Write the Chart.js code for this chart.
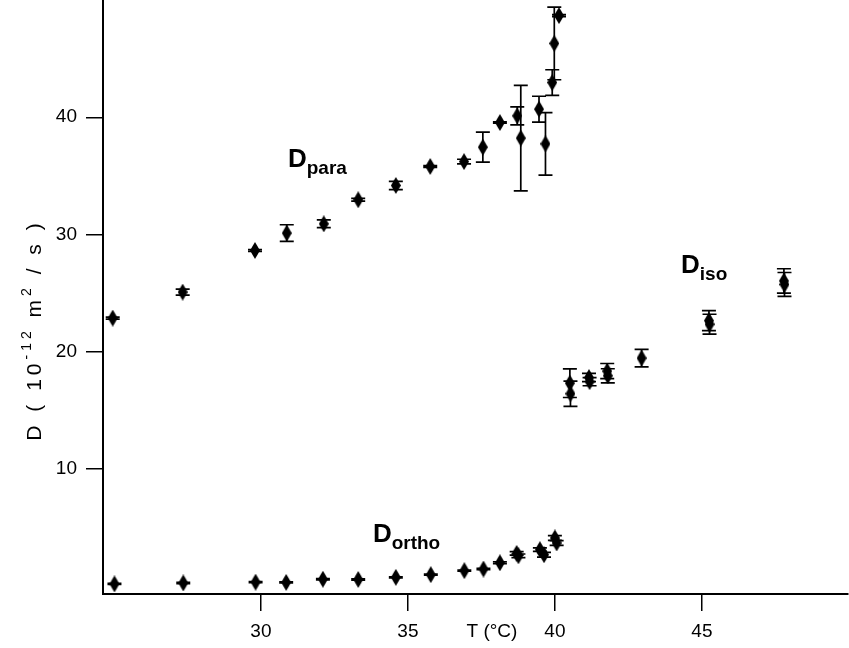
<!DOCTYPE html>
<html>
<head>
<meta charset="UTF-8">
<title>D vs T</title>
<script src="https://cdn.jsdelivr.net/npm/chart.js"></script>
<style>
  body, html { margin: 0; padding: 0; background: #fff; }
  canvas { display: block; }
</style>
</head>
<body>
<canvas id="diffChart" width="849" height="648"></canvas>
<script>
// T in °C, D in 10^-12 m2/s, err = half length of the error bar
const tPara = [24.96, 27.34, 29.80, 30.88, 32.14, 33.31, 34.59, 35.76, 36.91, 37.55, 38.13, 38.72, 38.84, 39.46, 39.68, 39.91, 39.98, 40.14];
const dPara = [22.87, 25.09, 28.64, 30.12, 30.91, 32.96, 34.18, 35.80, 36.22, 37.45, 39.55, 40.12, 38.22, 40.69, 37.73, 42.96, 46.30, 48.67];
const ePara = [0.08, 0.26, 0.08, 0.71, 0.33, 0.12, 0.35, 0.08, 0.2, 1.28, 0.05, 0.77, 4.5, 1.1, 2.66, 1.09, 3.1, 0.08];

const tIso = [40.51, 40.53, 41.16, 41.18, 41.78, 41.80, 42.95, 45.24, 45.26, 47.79, 47.81];
const dIso = [17.32, 16.42, 17.80, 17.45, 18.35, 17.95, 19.46, 22.65, 22.35, 26.04, 25.74];
const eIso = [1.22, 1.08, 0.35, 0.35, 0.65, 0.6, 0.75, 0.85, 0.85, 1.04, 1.02];

const tOrtho = [25.02, 27.36, 29.82, 30.86, 32.11, 33.31, 34.59, 35.78, 36.92, 37.57, 38.13, 38.70, 38.76, 39.49, 39.63, 40.00, 40.06];
const dOrtho = [0.20, 0.28, 0.35, 0.33, 0.60, 0.58, 0.76, 0.99, 1.33, 1.47, 2.00, 2.80, 2.60, 3.12, 2.69, 4.12, 3.69];
const eOrtho = [0.05, 0.05, 0.05, 0.05, 0.05, 0.05, 0.05, 0.05, 0.05, 0.05, 0.08, 0.15, 0.15, 0.15, 0.2, 0.2, 0.2];

const xTicks = [30, 35, 40, 45];
const yTicks = [10, 20, 30, 40];

// series names written on the plot, anchored in data units
const seriesLabels = [
  { main: 'D', sub: 'para', t: 30.92, d: 35.77 },
  { main: 'D', sub: 'iso', t: 44.29, d: 26.73 },
  { main: 'D', sub: 'ortho', t: 33.81, d: 3.80 }
];
const xTitleAt = 37.86;

const FONT = '"Liberation Sans", Arial, Helvetica, sans-serif';
Chart.defaults.font.family = FONT;
Chart.defaults.color = '#000';

function makeDiamond(w, h) {
  const c = document.createElement('canvas');
  c.width = w; c.height = h;
  const g = c.getContext('2d');
  g.fillStyle = '#000';
  g.beginPath();
  g.moveTo(w / 2, 0);
  g.lineTo(w, h / 2);
  g.lineTo(w / 2, h);
  g.lineTo(0, h / 2);
  g.closePath();
  g.fill();
  return c;
}
const diamond = makeDiamond(10, 17);

function toPoints(ts, ds) {
  return ts.map((t, i) => ({ x: t, y: ds[i] }));
}

function series(ts, ds, es) {
  return {
    data: toPoints(ts, ds),
    errors: es,
    showLine: false,
    pointStyle: diamond,
    pointRadius: 6,
    pointHoverRadius: 6,
    borderColor: '#000',
    backgroundColor: '#000',
    clip: false
  };
}

// vertical error bars with caps
const errorBars = {
  id: 'errorBars',
  beforeDatasetsDraw(chart) {
    const { ctx, scales: { x, y } } = chart;
    ctx.save();
    ctx.strokeStyle = '#000';
    ctx.lineWidth = 1.7;
    chart.data.datasets.forEach(ds => {
      ds.data.forEach((p, i) => {
        const e = ds.errors[i];
        const px = x.getPixelForValue(p.x);
        const top = y.getPixelForValue(p.y + e);
        const bot = y.getPixelForValue(p.y - e);
        ctx.beginPath();
        ctx.moveTo(px, top); ctx.lineTo(px, bot);
        ctx.moveTo(px - 7, top); ctx.lineTo(px + 7, top);
        ctx.moveTo(px - 7, bot); ctx.lineTo(px + 7, bot);
        ctx.stroke();
      });
    });
    ctx.restore();
  }
};

// draws text pieces in a row, some raised (superscript) or lowered (subscript)
function drawPieces(ctx, pieces, x, y, align) {
  let total = 0;
  pieces.forEach(p => { ctx.font = p.font; total += ctx.measureText(p.text).width; });
  let cx = align === 'center' ? x - total / 2 : x;
  pieces.forEach(p => {
    ctx.font = p.font;
    ctx.fillText(p.text, cx, y + (p.dy || 0));
    cx += ctx.measureText(p.text).width;
  });
}

const texts = {
  id: 'texts',
  afterDraw(chart) {
    const { ctx, scales: { x, y } } = chart;
    ctx.save();
    ctx.fillStyle = '#000';

    // x axis title sits in the tick label row
    ctx.textBaseline = 'middle';
    ctx.font = '19px ' + FONT;
    ctx.textAlign = 'center';
    ctx.fillText('T (°C)', x.getPixelForValue(xTitleAt), 632);

    // y axis title, rotated, loosely spaced
    ctx.textAlign = 'left';
    ctx.textBaseline = 'alphabetic';
    ctx.translate(41, 330);
    ctx.rotate(-Math.PI / 2);
    ctx.letterSpacing = '4px';
    drawPieces(ctx, [
      { text: 'D ( 10', font: '21px ' + FONT },
      { text: '-12', font: '14px ' + FONT, dy: -10 },
      { text: ' m', font: '21px ' + FONT },
      { text: '2', font: '14px ' + FONT, dy: -10 },
      { text: ' / s )', font: '21px ' + FONT }
    ], 0, 0, 'center');
    ctx.letterSpacing = '0px';
    ctx.setTransform(1, 0, 0, 1, 0, 0);

    // series names
    seriesLabels.forEach(l => {
      drawPieces(ctx, [
        { text: l.main, font: 'bold 26px ' + FONT },
        { text: l.sub, font: 'bold 19px ' + FONT, dy: 7 }
      ], x.getPixelForValue(l.t), y.getPixelForValue(l.d), 'left');
    });
    ctx.restore();
  }
};

new Chart(document.getElementById('diffChart'), {
  type: 'scatter',
  data: {
    datasets: [
      series(tPara, dPara, ePara),
      series(tIso, dIso, eIso),
      series(tOrtho, dOrtho, eOrtho)
    ]
  },
  options: {
    responsive: false,
    animation: false,
    events: [],
    layout: { autoPadding: false, padding: { top: 0, right: 1, bottom: 0, left: 0 } },
    plugins: { legend: { display: false }, tooltip: { enabled: false } },
    scales: {
      x: {
        type: 'linear',
        min: 24.63,
        max: 49.97,
        afterBuildTicks: s => { s.ticks = xTicks.map(v => ({ value: v })); },
        afterFit: s => { s.height = 54; s.paddingLeft = 0; s.paddingRight = 0; },
        grid: { drawOnChartArea: false, drawTicks: true, tickLength: 17, color: '#000', lineWidth: 1.5 },
        border: { display: true, color: '#000', width: 2 },
        ticks: { padding: 9, font: { size: 19 }, color: '#000', maxRotation: 0 }
      },
      y: {
        type: 'linear',
        min: -0.66,
        max: 50,
        afterBuildTicks: s => { s.ticks = yTicks.map(v => ({ value: v })); },
        afterFit: s => { s.width = 103; s.paddingTop = 0; s.paddingBottom = 0; },
        grid: { drawOnChartArea: false, drawTicks: true, tickLength: 17, color: '#000', lineWidth: 1.5 },
        border: { display: true, color: '#000', width: 2 },
        ticks: { padding: 9, font: { size: 19 }, color: '#000' }
      }
    }
  },
  plugins: [errorBars, texts]
});
</script>
</body>
</html>
